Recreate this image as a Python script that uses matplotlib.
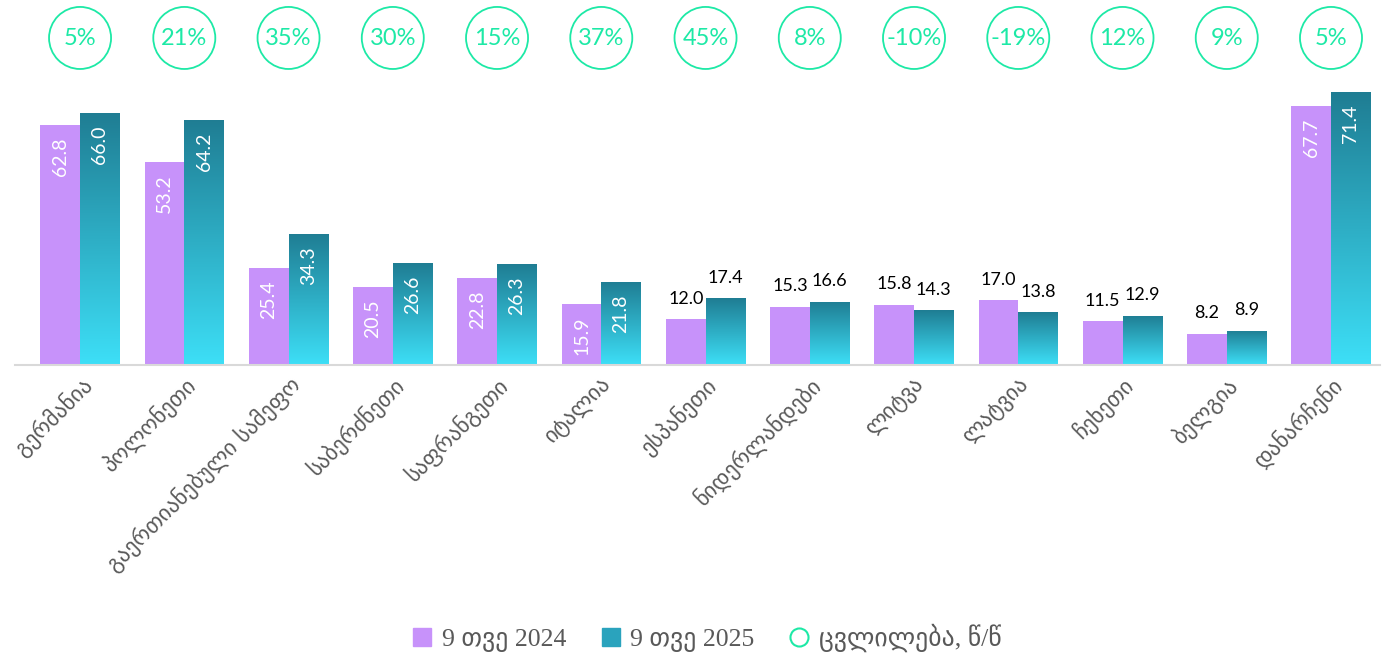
import matplotlib
matplotlib.use('Agg')
import matplotlib.pyplot as plt
import numpy as np
from matplotlib.patches import Ellipse, Patch
from matplotlib.lines import Line2D
from matplotlib.colors import LinearSegmentedColormap
from matplotlib.transforms import blended_transform_factory

countries = ['გერმანია', 'პოლონეთი', 'გაერთიანებული სამეფო', 'საბერძნეთი',
             'საფრანგეთი', 'იტალია', 'ესპანეთი', 'ნიდერლანდები', 'ლიტვა',
             'ლატვია', 'ჩეხეთი', 'ბელგია', 'დანარჩენი']
val_2024 = [62.8, 53.2, 25.4, 20.5, 22.8, 15.9, 12.0, 15.3, 15.8, 17.0, 11.5, 8.2, 67.7]
val_2025 = [66.0, 64.2, 34.3, 26.6, 26.3, 21.8, 17.4, 16.6, 14.3, 13.8, 12.9, 8.9, 71.4]
change = ['5%', '21%', '35%', '30%', '15%', '37%', '45%', '8%', '-10%', '-19%', '12%', '9%', '5%']
legend_labels = ['9 თვე 2024', '9 თვე 2025', 'ცვლილება, წ/წ']

PURPLE = '#c792fa'
TEAL_TOP = '#1f7d93'
TEAL_BOT = '#3ddff7'
GREEN = '#1de9a6'
GRAY = '#595959'

plt.rcParams['font.family'] = ['DejaVu Sans']

fig = plt.figure(figsize=(13.87, 6.58), dpi=100)
ax = fig.add_axes([15 / 1387, 1 - 365 / 658, 1365 / 1387, 365 / 658])

x = np.arange(len(countries))
w = 0.38
b1 = ax.bar(x - w / 2, val_2024, w, color=PURPLE, zorder=2)
b2 = ax.bar(x + w / 2, val_2025, w, color='none', zorder=2)

# vertical gradient on the 2025 bars
cmap = LinearSegmentedColormap.from_list('teal', [TEAL_BOT, TEAL_TOP])
grad = np.linspace(0, 1, 256).reshape(-1, 1)
for bar in b2:
    x0, h = bar.get_x(), bar.get_height()
    im = ax.imshow(grad, extent=[x0, x0 + bar.get_width(), 0, h], origin='lower',
                   aspect='auto', cmap=cmap, zorder=2)
    im.set_clip_path(bar)
ax.set_xlim(-0.624, 12.47)
ax.set_ylim(0, 95.5)

fam = ['Lato', 'DejaVu Sans']
for i in range(len(countries)):
    inside = max(val_2024[i], val_2025[i]) > 20
    for xv, v in ((x[i] - w / 2, val_2024[i]), (x[i] + w / 2, val_2025[i])):
        if inside:
            ax.annotate(f'{v:.1f}', (xv, v), xytext=(0, -9), textcoords='offset points',
                        rotation=90, ha='center', va='top', color='white',
                        fontsize=14, family=fam)
        else:
            ax.annotate(f'{v:.1f}', (xv, v), xytext=(0, 9), textcoords='offset points',
                        ha='center', va='bottom', color='black',
                        fontsize=13, family=fam)

# change bubbles along the top
trans = blended_transform_factory(ax.transData, ax.transAxes)
for i, c in enumerate(change):
    ax.add_patch(Ellipse((x[i], 0.896), 0.595, 0.17, transform=trans,
                         facecolor='white', edgecolor=GREEN, lw=1.3, clip_on=False))
    ax.text(x[i], 0.894, c, transform=trans, ha='center', va='center',
            color=GREEN, fontsize=17, family=fam)

for s in ['top', 'right', 'left']:
    ax.spines[s].set_visible(False)
ax.spines['bottom'].set_color('#d9d9d9')
ax.spines['bottom'].set_linewidth(1.5)
ax.set_yticks([])
ax.set_xticks(x)
ax.set_xticklabels(countries, rotation=45, ha='right', va='top',
                   rotation_mode='anchor', fontsize=16, color=GRAY)
ax.tick_params(axis='x', length=0, pad=6)

handles = [Patch(color=PURPLE),
           Patch(color='#2aa3bd'),
           Line2D([], [], marker='o', ls='none', markerfacecolor='white',
                  markeredgecolor=GREEN, markersize=13, markeredgewidth=1.5)]
fig.legend(handles, legend_labels, loc='center', bbox_to_anchor=(0.51, 1 - 638 / 658),
           ncol=3, frameon=False, handlelength=0.7, handleheight=0.7,
           columnspacing=1.4, handletextpad=0.4,
           prop={'family': ['Liberation Serif', 'DejaVu Sans'], 'size': 18.5},
           labelcolor=GRAY)

fig.savefig('out.png', dpi=100)
